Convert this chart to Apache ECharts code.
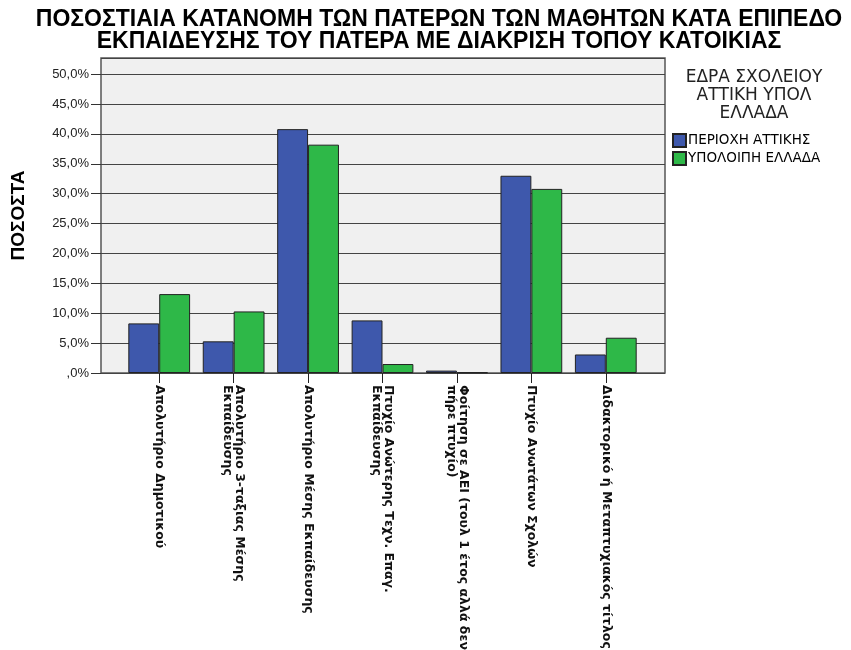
<!DOCTYPE html>
<html>
<head>
<meta charset="utf-8">
<script src="https://cdn.jsdelivr.net/npm/echarts@6/dist/echarts.min.js"></script>
<style>html,body{margin:0;padding:0;background:#fff;}#c{width:851px;height:650px;}</style>
</head>
<body>
<div id="c"></div>
<script>
var categories = [
  "Απολυτήριο Δημοτικού",
  "Απολυτήριο 3-ταξιας Μέσης\nΕκπαίδευσης",
  "Απολυτήριο Μέσης Εκπαίδευσης",
  "Πτυχίο Ανώτερης Τεχν. Επαγ.\nΕκπαίδευσης",
  "Φοίτηση σε ΑΕΙ (τουλ 1 έτος αλλά δεν\nπήρε πτυχίο)",
  "Πτυχίο Ανωτάτων Σχολών",
  "Διδακτορικό ή Μεταπτυχιακός τίτλος"
];
var attikiValues = [8.3, 5.3, 40.8, 8.8, 0.4, 33.0, 3.1];
var ypoloipiValues = [13.2, 10.3, 38.2, 1.5, 0.1, 30.8, 5.9];
var seriesNames = ["ΠΕΡΙΟΧΗ ΑΤΤΙΚΗΣ", "ΥΠΟΛΟΙΠΗ ΕΛΛΑΔΑ"];
var yTicks = [0, 5, 10, 15, 20, 25, 30, 35, 40, 45, 50];

var chart = echarts.init(document.getElementById('c'), null, {renderer: 'canvas'});
var yMax = 52.7;
function fmtPct(v) {
  if (yTicks.indexOf(v) < 0) return '';
  if (v === 0) return ',0%';
  return v.toFixed(1).replace('.', ',') + '%';
}
var option = {
  backgroundColor: '#ffffff',
  animation: false,
  title: [{
    text: 'ΠΟΣΟΣΤΙΑΙΑ ΚΑΤΑΝΟΜΗ ΤΩΝ ΠΑΤΕΡΩΝ ΤΩΝ ΜΑΘΗΤΩΝ ΚΑΤΑ ΕΠΙΠΕΔΟ\nΕΚΠΑΙΔΕΥΣΗΣ ΤΟΥ ΠΑΤΕΡΑ ΜΕ ΔΙΑΚΡΙΣΗ ΤΟΠΟΥ ΚΑΤΟΙΚΙΑΣ',
    left: 434, top: 4, textAlign: 'center',
    textStyle: {fontFamily: 'Liberation Sans', fontWeight: 'bold', fontSize: 23, lineHeight: 22, color: '#000'}
  }, {
    text: 'ΕΔΡΑ ΣΧΟΛΕΙΟΥ\nΑΤΤΙΚΗ ΥΠΟΛ\nΕΛΛΑΔΑ',
    left: 749, top: 64, textAlign: 'center',
    textStyle: {fontFamily: 'DejaVu Sans', fontWeight: 'normal', fontSize: 17, lineHeight: 18, color: '#222'}
  }],
  legend: {
    data: seriesNames,
    orient: 'vertical',
    left: 667, top: 128,
    itemWidth: 13, itemHeight: 13, itemGap: 3,
    icon: 'rect',
    textStyle: {fontFamily: 'DejaVu Sans', fontSize: 13.5, color: '#000', padding: [0, 0, 0, -3]}
  },
  grid: [
    {left: 101, right: 186, top: 58, bottom: 277, outerBoundsMode: 'none', containLabel: false,
     show: true, backgroundColor: '#f0f0f0', borderColor: '#555', borderWidth: 1.5},
    {left: 122, right: 208, top: 58, bottom: 277, outerBoundsMode: 'none', containLabel: false}
  ],
  xAxis: [
    {type: 'value', gridIndex: 0, min: 0, max: 1, show: false},
    {type: 'category', gridIndex: 1, data: categories, boundaryGap: true,
     axisLine: {show: false},
     axisTick: {show: true, alignWithLabel: true, length: 10, lineStyle: {color: '#222', width: 1}},
     axisLabel: {rotate: -90, interval: 0, margin: 12, fontFamily: 'DejaVu Sans', fontWeight: 'bold', fontSize: 12.5, color: '#111', lineHeight: 12}
    }
  ],
  yAxis: [
    {type: 'value', gridIndex: 0, min: 0, max: yMax, interval: 5,
     name: 'ΠΟΣΟΣΤΑ', nameLocation: 'middle', nameGap: 73, nameRotate: 90,
     nameTextStyle: {fontFamily: 'Liberation Sans', fontWeight: 'bold', fontSize: 19, color: '#000'},
     axisLine: {show: false},
     axisTick: {show: true, length: 10, lineStyle: {color: '#333'}},
     axisLabel: {formatter: fmtPct, showMaxLabel: false, fontFamily: 'Liberation Sans', fontSize: 13, color: '#222', margin: 12},
     splitLine: {show: true, lineStyle: {color: '#444', width: 1}}
    },
    {type: 'value', gridIndex: 1, min: 0, max: yMax, interval: 5, show: false, splitLine: {show: false}}
  ],
  series: [
    {name: seriesNames[0], type: 'bar', xAxisIndex: 1, yAxisIndex: 1, data: attikiValues,
     barGap: '0%', barCategoryGap: '17%',
     itemStyle: {color: '#3e58ac', borderColor: '#222', borderWidth: 1}},
    {name: seriesNames[1], type: 'bar', xAxisIndex: 1, yAxisIndex: 1, data: ypoloipiValues,
     barGap: '0%', barCategoryGap: '17%',
     itemStyle: {color: '#2eb848', borderColor: '#222', borderWidth: 1}}
  ]
};
chart.setOption(option);
</script>
</body>
</html>
